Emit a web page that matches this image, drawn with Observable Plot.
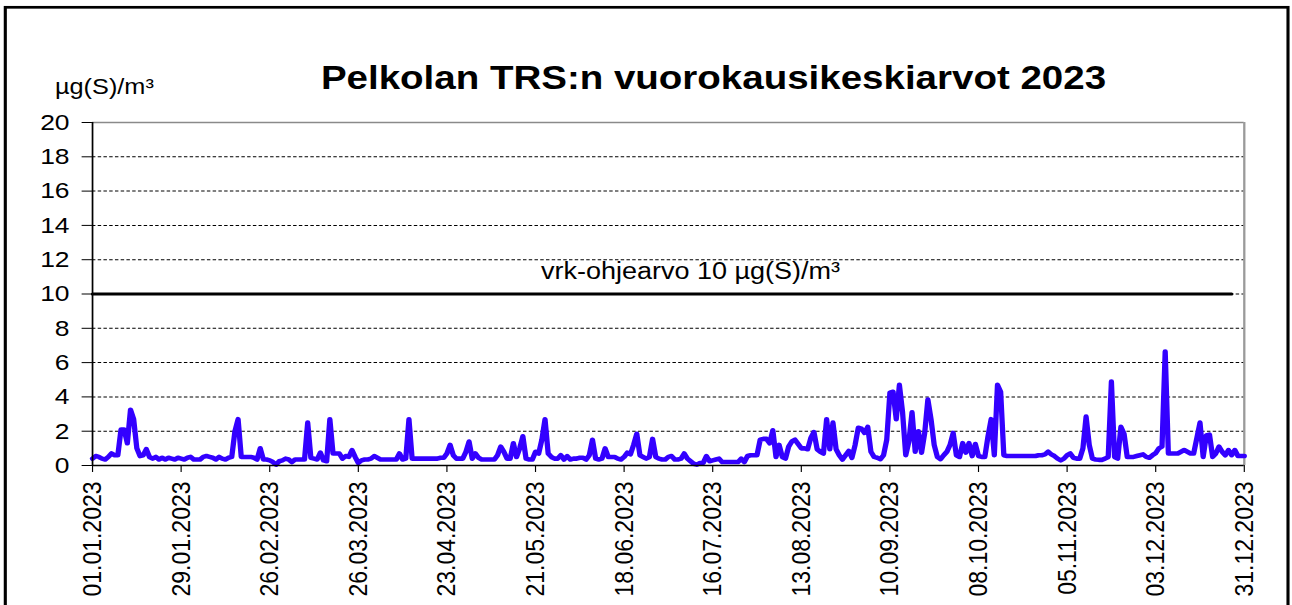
<!DOCTYPE html>
<html><head><meta charset="utf-8">
<script src="https://cdn.jsdelivr.net/npm/d3@7"></script>
<script src="https://cdn.jsdelivr.net/npm/@observablehq/plot@0.6"></script>
<style>
html,body{margin:0;padding:0;background:#fff;overflow:hidden;}
#chart svg{display:block;}
</style></head><body><div id="chart"></div>
<script>
// Daily TRS mean values µg(S)/m³, 2023, one array per month
const jan = [0.4,0.55,0.5,0.4,0.35,0.5,0.7,0.6,0.6,2.1,2.1,1.3,3.25,2.7,1.0,0.55,0.6,0.95,0.5,0.4,0.5,0.35,0.45,0.35,0.45,0.4,0.35,0.45,0.4,0.35,0.45];
const feb = [0.5,0.35,0.35,0.35,0.5,0.55,0.5,0.45,0.35,0.5,0.4,0.35,0.45,0.5,2.0,2.7,0.5,0.5,0.5,0.5,0.45,0.35,1.0,0.35,0.35,0.3,0.2,0.05];
const mar = [0.25,0.3,0.4,0.35,0.2,0.35,0.35,0.35,0.35,2.5,0.45,0.4,0.35,0.75,0.3,0.25,2.7,0.7,0.7,0.7,0.4,0.55,0.5,0.9,0.5,0.15,0.3,0.35,0.35,0.4,0.55];
const apr = [0.45,0.35,0.35,0.35,0.35,0.35,0.35,0.7,0.35,0.4,2.7,0.4,0.4,0.4,0.4,0.4,0.4,0.4,0.4,0.4,0.45,0.45,0.7,1.2,0.6,0.4,0.4,0.4,0.8,1.4];
const may = [0.4,0.7,0.45,0.35,0.35,0.35,0.35,0.35,0.6,1.1,0.8,0.4,0.4,1.3,0.5,1.0,1.7,0.4,0.35,0.35,0.8,0.7,1.5,2.7,0.7,0.5,0.4,0.4,0.6,0.35,0.55];
const jun = [0.35,0.4,0.4,0.45,0.45,0.35,0.6,1.5,0.4,0.35,0.4,1.0,0.5,0.5,0.5,0.4,0.35,0.5,0.75,0.65,1.2,1.85,0.6,0.5,0.4,0.5,1.55,0.5,0.4,0.35];
const jul = [0.35,0.5,0.55,0.35,0.35,0.4,0.7,0.4,0.25,0.1,0.05,0.15,0.15,0.55,0.25,0.3,0.35,0.4,0.2,0.2,0.2,0.2,0.2,0.2,0.4,0.2,0.55,0.6,0.6,0.6,1.5];
const aug = [1.55,1.55,1.3,2.05,0.5,1.2,0.5,0.4,1.1,1.4,1.5,1.25,1.0,1.0,0.95,1.6,1.95,0.95,0.8,0.7,2.7,0.95,2.5,0.95,0.6,0.35,0.6,0.85,0.45,1.2,2.2];
const sep = [2.15,1.9,2.25,0.8,0.5,0.45,0.37,0.6,1.5,4.25,4.3,2.7,4.7,3.1,0.6,1.4,3.1,0.8,2.0,0.75,1.9,3.85,2.7,1.2,0.5,0.37,0.6,0.8,1.2,1.9];
const oct = [0.6,0.5,1.3,0.75,1.3,0.55,1.25,0.55,0.5,0.5,1.7,2.7,0.6,4.7,4.3,0.6,0.55,0.55,0.55,0.55,0.55,0.55,0.55,0.55,0.55,0.55,0.6,0.6,0.65,0.8,0.65];
const nov = [0.55,0.4,0.3,0.4,0.6,0.7,0.45,0.4,0.4,1.0,2.85,1.2,0.4,0.35,0.33,0.33,0.4,0.5,4.9,0.5,0.4,2.25,1.85,0.5,0.5,0.5,0.55,0.6,0.65,0.5];
const dec = [0.45,0.6,0.72,1.0,1.1,6.65,0.7,0.7,0.7,0.7,0.8,0.9,0.8,0.7,0.7,1.6,2.5,0.5,1.75,1.8,0.5,0.7,1.1,0.8,0.6,0.9,0.6,0.9,0.55,0.55,0.55];

const startDate = "2023-01-01";
const endDate = "2023-12-31";
const xTickDates = ["2023-01-01","2023-01-29","2023-02-26","2023-03-26","2023-04-23","2023-05-21","2023-06-18","2023-07-16","2023-08-13","2023-09-10","2023-10-08","2023-11-05","2023-12-03","2023-12-31"];
const yTicks = [0,2,4,6,8,10,12,14,16,18,20];
const gridValues = [2,4,6,8,10,12,14,16,18];
const thresholdDates = ["2023-01-01","2023-12-27"];
const thresholdValues = [10,10];
const thresholdLabel = "vrk-ohjearvo 10 µg(S)/m³";
const thresholdLabelDate = "2023-07-09";
const titleText = "Pelkolan TRS:n vuorokausikeskiarvot 2023";
const unitText = "µg(S)/m³";

const values = [...jan,...feb,...mar,...apr,...may,...jun,...jul,...aug,...sep,...oct,...nov,...dec];
const d0 = new Date(startDate);
const data = values.map((v,i)=>({date: d3.utcDay.offset(d0, i), value: v}));
const thresholdRows = thresholdDates.map((d,i)=>({date: new Date(d), value: thresholdValues[i]}));

const W = 1124, H = 605, SX = 1292 / W;
const FONT = "'Liberation Sans', Arial, Helvetica, sans-serif";

const chart = Plot.plot({
  width: W, height: H,
  marginLeft: 80, marginRight: 42, marginTop: 122, marginBottom: 140,
  style: {fontFamily: FONT, background: "white", color: "#000", overflow: "visible"},
  x: {type: "utc", domain: [new Date(startDate), new Date(endDate)]},
  y: {domain: [0, 20]},
  marks: [
    Plot.ruleY(gridValues, {stroke: "#000", strokeWidth: 1, strokeDasharray: "3,2"}),
    Plot.ruleY([20], {stroke: "#8a8a8a", strokeWidth: 1.5}),
    Plot.ruleX([new Date(endDate)], {stroke: "#9a9a9a", strokeWidth: 2}),
    Plot.line(thresholdRows, {x: "date", y: "value", stroke: "#000", strokeWidth: 3}),
    Plot.text([thresholdLabel], {x: () => new Date(thresholdLabelDate), y: () => 10, text: d => d, dy: -23, fontSize: 23.5, fill: "#000", textAnchor: "middle"}),
    Plot.line(data, {x: "date", y: "value", stroke: "#3300ff", strokeWidth: 4.6, strokeLinejoin: "round", strokeLinecap: "round"}),
    Plot.axisY({ticks: yTicks, tickFormat: d => String(d), tickSize: 9, tickPadding: 11, fontSize: 23, label: null}),
    Plot.axisX({ticks: xTickDates.map(d => new Date(d)), tickFormat: d3.utcFormat("%d.%m.%Y"), tickRotate: -90, tickSize: 7, tickPadding: 9, fontSize: 23, label: null}),
    Plot.ruleX([new Date(startDate)], {stroke: "#000", strokeWidth: 1.5}),
    Plot.ruleY([0], {stroke: "#000", strokeWidth: 1.5})
  ]
});

chart.setAttribute("viewBox", `0 0 ${W} ${H}`);
chart.setAttribute("preserveAspectRatio", "none");
chart.setAttribute("width", 1292);
chart.setAttribute("height", H);
chart.style.maxWidth = "none";
chart.style.width = "1292px";
chart.style.height = H + "px";

const svg = d3.select(chart);
svg.append("rect")
  .attr("x", 5.3 / SX).attr("y", 7.3)
  .attr("width", (1288 - 5.3) / SX).attr("height", 700)
  .attr("fill", "none").attr("stroke", "#000").attr("stroke-width", 2.7);
svg.append("text")
  .attr("x", 713.5 / SX).attr("y", 89)
  .attr("text-anchor", "middle")
  .attr("font-family", FONT).attr("font-weight", "bold").attr("font-size", 33.5)
  .attr("fill", "#000")
  .text(titleText);
svg.append("text")
  .attr("x", 55 / SX).attr("y", 94.5)
  .attr("text-anchor", "start")
  .attr("font-family", FONT).attr("font-size", 22)
  .attr("fill", "#000")
  .text(unitText);

document.getElementById("chart").appendChild(chart);
</script></body></html>
